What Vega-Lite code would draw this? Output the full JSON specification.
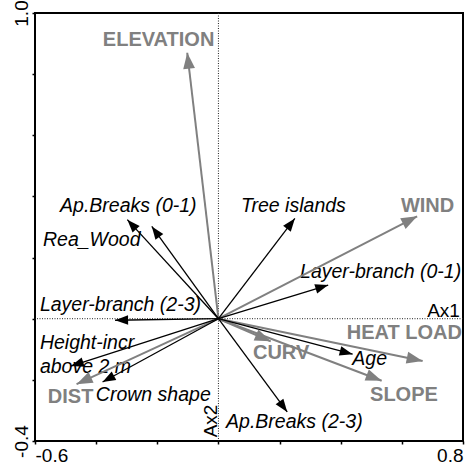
{
  "$schema": "https://vega.github.io/schema/vega-lite/v6.json",
  "width": 428,
  "height": 428,
  "autosize": {"type": "none"},
  "padding": {"left": 35, "top": 13, "right": 2, "bottom": 24},
  "background": "white",
  "config": {
    "view": {"stroke": "black", "strokeWidth": 2},
    "font": "Liberation Sans"
  },
  "datasets": {
    "vectors": [
      {"name": "ELEVATION", "kind": "env", "x": -0.102, "y": 0.870, "lx": -0.378, "ly": 0.911},
      {"name": "WIND", "kind": "env", "x": 0.650, "y": 0.335, "lx": 0.597, "ly": 0.368},
      {"name": "HEAT LOAD", "kind": "env", "x": 0.668, "y": -0.138, "lx": 0.420, "ly": -0.047},
      {"name": "CURV", "kind": "env", "x": 0.171, "y": -0.074, "lx": 0.113, "ly": -0.113},
      {"name": "SLOPE", "kind": "env", "x": 0.534, "y": -0.203, "lx": 0.496, "ly": -0.250},
      {"name": "DIST", "kind": "env", "x": -0.464, "y": -0.214, "lx": -0.558, "ly": -0.257},
      {"name": "Ap.Breaks (0-1)", "kind": "trait", "x": -0.298, "y": 0.324, "lx": -0.518, "ly": 0.368},
      {"name": "Rea_Wood", "kind": "trait", "x": -0.218, "y": 0.302, "lx": -0.574, "ly": 0.257},
      {"name": "Tree islands", "kind": "trait", "x": 0.250, "y": 0.328, "lx": 0.074, "ly": 0.368},
      {"name": "Layer-branch (0-1)", "kind": "trait", "x": 0.359, "y": 0.110, "lx": 0.267, "ly": 0.152},
      {"name": "Layer-branch (2-3)", "kind": "trait", "x": -0.338, "y": -0.005, "lx": -0.584, "ly": 0.044},
      {"name": ["Height-incr", "above 2 m"], "kind": "trait", "x": -0.483, "y": -0.155, "lx": -0.584, "ly": -0.080},
      {"name": "Crown shape", "kind": "trait", "x": -0.379, "y": -0.207, "lx": -0.401, "ly": -0.250},
      {"name": "Age", "kind": "trait", "x": 0.439, "y": -0.116, "lx": 0.438, "ly": -0.132},
      {"name": "Ap.Breaks (2-3)", "kind": "trait", "x": 0.225, "y": -0.305, "lx": 0.025, "ly": -0.339}
    ]
  },
  "layer": [
    {
      "data": {"values": [{"v": 0}]},
      "mark": {"type": "rule", "color": "#222", "strokeWidth": 1, "strokeDash": [1, 1.5]},
      "encoding": {
        "x": {
          "field": "v",
          "type": "quantitative",
          "scale": {"domain": [-0.6, 0.8], "nice": false, "zero": false},
          "axis": {
            "title": null,
            "grid": false,
            "domain": false,
            "values": [-0.6, -0.4, -0.2, 0, 0.2, 0.4, 0.6, 0.8],
            "tickSize": 3,
            "tickWidth": 1.5,
            "tickColor": "black",
            "labelExpr": "datum.value < -0.5 ? '-0.6' : (datum.value > 0.7 ? '0.8' : '')",
            "labelFlush": true,
            "labelOverlap": false,
            "labelFont": "Liberation Sans",
            "labelFontSize": 19,
            "labelColor": "black",
            "labelPadding": 2
          }
        }
      }
    },
    {
      "data": {"values": [{"v": 0}]},
      "mark": {"type": "rule", "color": "#222", "strokeWidth": 1, "strokeDash": [1, 1.5]},
      "encoding": {
        "y": {
          "field": "v",
          "type": "quantitative",
          "scale": {"domain": [-0.4, 1.0], "nice": false, "zero": false},
          "axis": {
            "title": null,
            "grid": false,
            "domain": false,
            "values": [-0.4, -0.2, 0, 0.2, 0.4, 0.6, 0.8, 1.0],
            "tickSize": 3,
            "tickWidth": 1.5,
            "tickColor": "black",
            "labelExpr": "datum.value < -0.3 ? '-0.4' : (datum.value > 0.9 ? '1.0' : '')",
            "labelAngle": 270,
            "labelFlush": true,
            "labelOverlap": false,
            "labelFont": "Liberation Sans",
            "labelFontSize": 19,
            "labelColor": "black",
            "labelPadding": 1
          }
        }
      }
    },
    {
      "data": {"name": "vectors"},
      "transform": [{"filter": "datum.kind == 'env'"}],
      "mark": {"type": "text", "align": "left", "baseline": "middle", "font": "Liberation Sans", "fontWeight": "bold", "fontSize": 20, "color": "#808080"},
      "encoding": {
        "x": {"field": "lx", "type": "quantitative"},
        "y": {"field": "ly", "type": "quantitative"},
        "text": {"field": "name", "type": "nominal"}
      }
    },
    {
      "data": {"name": "vectors"},
      "transform": [{"filter": "datum.kind == 'trait'"}],
      "mark": {"type": "text", "align": "left", "baseline": "middle", "font": "Liberation Sans", "fontStyle": "italic", "fontSize": 19.5, "lineHeight": 24, "color": "black"},
      "encoding": {
        "x": {"field": "lx", "type": "quantitative"},
        "y": {"field": "ly", "type": "quantitative"},
        "text": {"field": "name", "type": "nominal"}
      }
    },
    {
      "data": {"values": [{"label": "Ax1", "x": 0.790, "y": 0.026}]},
      "mark": {"type": "text", "align": "right", "baseline": "middle", "font": "Liberation Sans", "fontSize": 19, "color": "black"},
      "encoding": {
        "x": {"field": "x", "type": "quantitative"},
        "y": {"field": "y", "type": "quantitative"},
        "text": {"field": "label", "type": "nominal"}
      }
    },
    {
      "data": {"values": [{"label": "Ax2", "x": -0.024, "y": -0.388}]},
      "mark": {"type": "text", "align": "left", "baseline": "middle", "angle": 270, "font": "Liberation Sans", "fontSize": 19, "color": "black"},
      "encoding": {
        "x": {"field": "x", "type": "quantitative"},
        "y": {"field": "y", "type": "quantitative"},
        "text": {"field": "label", "type": "nominal"}
      }
    },
    {
      "data": {"name": "vectors"},
      "transform": [{"filter": "datum.kind == 'env'"}],
      "mark": {"type": "rule", "color": "#808080", "strokeWidth": 2},
      "encoding": {
        "x": {"field": "x", "type": "quantitative"},
        "y": {"field": "y", "type": "quantitative"},
        "x2": {"datum": 0},
        "y2": {"datum": 0}
      }
    },
    {
      "data": {"name": "vectors"},
      "transform": [{"filter": "datum.kind == 'trait'"}],
      "mark": {"type": "rule", "color": "#000000", "strokeWidth": 1.3},
      "encoding": {
        "x": {"field": "x", "type": "quantitative"},
        "y": {"field": "y", "type": "quantitative"},
        "x2": {"datum": 0},
        "y2": {"datum": 0}
      }
    },
    {
      "data": {"name": "vectors"},
      "transform": [
        {"filter": "datum.kind == 'env'"},
        {"calculate": "atan2(datum.x, datum.y) * 180 / PI", "as": "heading"}
      ],
      "mark": {"type": "point", "shape": "M0,0L-0.37,1L0.37,1Z", "filled": true, "opacity": 1, "strokeWidth": 0, "color": "#808080", "size": 1024},
      "encoding": {
        "x": {"field": "x", "type": "quantitative"},
        "y": {"field": "y", "type": "quantitative"},
        "angle": {"field": "heading", "type": "quantitative", "scale": null}
      }
    },
    {
      "data": {"name": "vectors"},
      "transform": [
        {"filter": "datum.kind == 'trait'"},
        {"calculate": "atan2(datum.x, datum.y) * 180 / PI", "as": "heading"}
      ],
      "mark": {"type": "point", "shape": "M0,0L-0.37,1L0.37,1Z", "filled": true, "opacity": 1, "strokeWidth": 0, "color": "#000000", "size": 676},
      "encoding": {
        "x": {"field": "x", "type": "quantitative"},
        "y": {"field": "y", "type": "quantitative"},
        "angle": {"field": "heading", "type": "quantitative", "scale": null}
      }
    }
  ]
}
